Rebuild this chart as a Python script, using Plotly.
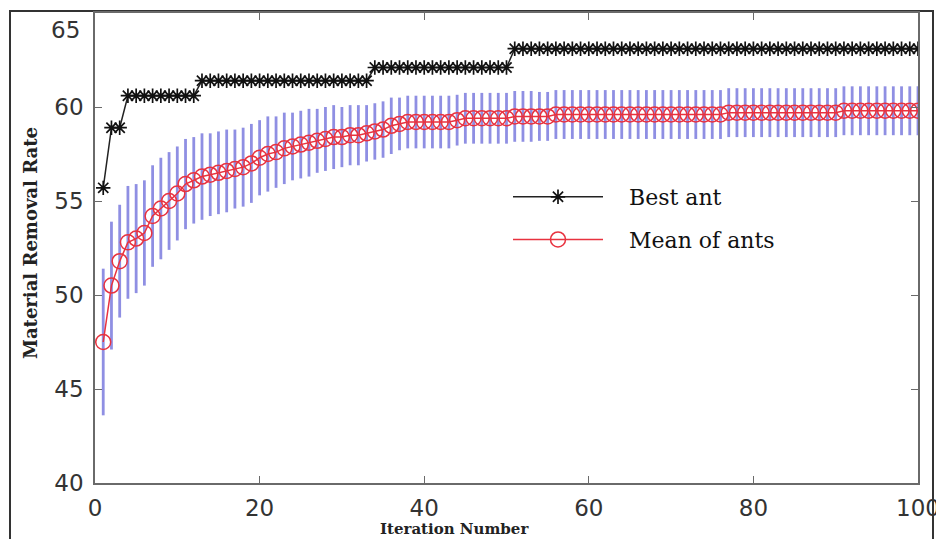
import plotly.graph_objects as go

iterations = list(range(1, 101))

best_ant = ([55.7] + [58.9] * 2 + [60.6] * 9 + [61.4] * 21 + [62.1] * 17 + [63.1] * 50)

mean_ants = [
    47.5, 50.5, 51.8, 52.8, 53.0, 53.3, 54.2, 54.6, 55.0, 55.4,
    55.9, 56.1, 56.3, 56.4, 56.5, 56.6, 56.7, 56.8, 57.0, 57.3,
    57.5, 57.6, 57.8, 57.9, 58.0, 58.1, 58.2, 58.3, 58.4, 58.4,
    58.5, 58.5, 58.6, 58.7, 58.8, 59.0, 59.1, 59.2, 59.2, 59.2,
    59.2, 59.2, 59.2, 59.3, 59.4, 59.4, 59.4, 59.4, 59.4, 59.4,
    59.5, 59.5, 59.5, 59.5, 59.5, 59.6, 59.6, 59.6, 59.6, 59.6,
    59.6, 59.6, 59.6, 59.6, 59.6, 59.6, 59.6, 59.6, 59.6, 59.6,
    59.6, 59.6, 59.6, 59.6, 59.6, 59.6, 59.7, 59.7, 59.7, 59.7,
    59.7, 59.7, 59.7, 59.7, 59.7, 59.7, 59.7, 59.7, 59.7, 59.7,
    59.8, 59.8, 59.8, 59.8, 59.8, 59.8, 59.8, 59.8, 59.8, 59.8,
]

mean_err = [
    3.9, 3.4, 3.0, 3.0, 2.9, 2.8, 2.7, 2.7, 2.6, 2.5,
    2.4, 2.3, 2.3, 2.2, 2.2, 2.2, 2.1, 2.1, 2.1, 2.0,
    2.0, 1.9, 1.9, 1.8, 1.8, 1.8, 1.7, 1.7, 1.7, 1.6,
    1.6, 1.6, 1.5, 1.5, 1.5, 1.5, 1.4, 1.4, 1.4, 1.4,
    1.4, 1.4, 1.4, 1.35, 1.35, 1.35, 1.35, 1.35, 1.35, 1.35,
    1.35, 1.35, 1.35, 1.3, 1.3, 1.3, 1.3, 1.3, 1.3, 1.3,
    1.3, 1.3, 1.3, 1.3, 1.3, 1.3, 1.3, 1.3, 1.3, 1.3,
    1.3, 1.3, 1.3, 1.3, 1.3, 1.3, 1.3, 1.3, 1.3, 1.3,
    1.3, 1.3, 1.3, 1.3, 1.3, 1.3, 1.3, 1.3, 1.3, 1.3,
    1.3, 1.3, 1.3, 1.3, 1.3, 1.3, 1.3, 1.3, 1.3, 1.3,
]

x_ticks = [0, 20, 40, 60, 80, 100]
y_ticks = [40, 45, 50, 55, 60, 65]
y_tick_text = ["40", "45", "50", "55", "60", ""]   # top label drawn just below the frame
top_label = "65"

NB = "\u00a0"

fig = go.Figure()

fig.add_trace(go.Scatter(
    x=iterations, y=best_ant, name=NB * 3 + "Best ant", mode="lines+markers",
    line=dict(color="#222222", width=1.5),
    marker=dict(symbol="asterisk-open", size=12, color="#111111",
                line=dict(color="#111111", width=1.7)),
    legendgroup="a",
))

fig.add_trace(go.Scatter(
    x=iterations, y=mean_ants, name=NB * 3 + "Mean of ants", mode="lines+markers",
    line=dict(color="#e8323f", width=1.5),
    marker=dict(symbol="circle-open", size=15, color="#e8323f",
                line=dict(color="#e8323f", width=1.5)),
    error_y=dict(type="data", array=mean_err, visible=True,
                 color="rgba(75,75,210,0.62)", thickness=2.8, width=0),
    legendgroup="b",
))

tick_font = dict(family="DejaVu Sans, Arial, sans-serif", size=23, color="#333333")

axis_common = dict(
    showline=True, linecolor="#6a6a6a", linewidth=1.5, mirror="ticks",
    ticks="inside", ticklen=7, tickcolor="#6a6a6a", tickwidth=1.2,
    showgrid=False, zeroline=False, automargin=False, tickfont=tick_font,
)

fig.update_xaxes(range=[0, 100], tickvals=x_ticks, ticklabelstandoff=4, **axis_common)
fig.update_yaxes(range=[40, 65], tickvals=y_ticks, ticktext=y_tick_text,
                 ticklabelstandoff=5, **axis_common)

# plot area in page pixels: left 95, right 918, top 13, bottom 483 (page offset 8 px)
PW, PH = 823, 470

fig.add_annotation(
    text=top_label, xref="paper", yref="paper",
    x=(82 - 95) / PW, y=(483 - 30) / PH, xanchor="right", yanchor="middle",
    showarrow=False, font=tick_font,
)

fig.add_annotation(
    text="<b>Iteration Number</b>", xref="paper", yref="paper",
    x=(454 - 95) / PW, y=(483 - 529) / PH, xanchor="center", yanchor="middle",
    showarrow=False,
    font=dict(family="DejaVu Serif, Liberation Serif, serif", size=15, color="#222222"),
)

fig.add_annotation(
    text="<b>Material Removal Rate</b>", xref="paper", yref="paper",
    x=(30 - 95) / PW, y=(483 - 243) / PH, xanchor="center", yanchor="middle",
    showarrow=False, textangle=-90,
    font=dict(family="DejaVu Serif, Liberation Serif, serif", size=18, color="#222222"),
)

# outer frame around the figure
fig.add_shape(type="rect", xref="paper", yref="paper",
              x0=(10 - 95) / PW, x1=(933 - 95) / PW,
              y0=(483 - 560) / PH, y1=(483 - 11) / PH,
              line=dict(color="#333333", width=2), layer="below")

fig.update_layout(
    width=936, height=531,
    margin=dict(l=87, r=26, t=5, b=56, autoexpand=False),
    paper_bgcolor="white", plot_bgcolor="white",
    showlegend=True,
    legend=dict(
        x=(508 - 95) / PW, y=(483 - 176) / PH, xanchor="left", yanchor="top",
        bgcolor="rgba(255,255,255,0)", borderwidth=0,
        font=dict(family="DejaVu Serif, Liberation Serif, serif", size=22, color="#111111"),
        itemwidth=90, tracegroupgap=11, traceorder="grouped",
    ),
)

fig.write_html("out.html")
